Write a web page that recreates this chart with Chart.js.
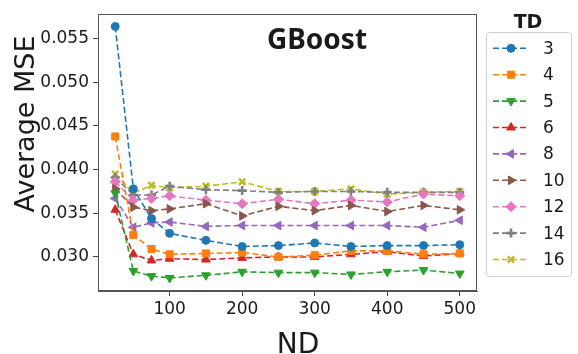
<!DOCTYPE html>
<html>
<head>
<meta charset="utf-8">
<script src="https://cdn.jsdelivr.net/npm/chart.js"></script>
<style>
  html, body { margin: 0; padding: 0; background: #fff; }
  #wrap { width: 578px; height: 354px; }
</style>
</head>
<body>
<div id="wrap"><canvas id="myChart" width="578" height="354"></canvas></div>
<script>
// ND values on the x axis
var nd = [25, 50, 75, 100, 150, 200, 250, 300, 350, 400, 450, 500];

// average MSE per tree depth (TD)
var td3  = [0.0564, 0.0378, 0.0344, 0.0327, 0.0319, 0.0312, 0.0313, 0.0316, 0.0312, 0.0313, 0.0313, 0.0314];
var td4  = [0.0438, 0.0325, 0.0309, 0.0303, 0.0304, 0.0305, 0.0300, 0.0302, 0.0307, 0.0307, 0.0303, 0.0304];
var td5  = [0.0373, 0.0284, 0.0278, 0.0276, 0.0279, 0.0283, 0.0282, 0.0282, 0.0280, 0.0283, 0.0285, 0.0281];
var td6  = [0.0354, 0.0303, 0.0296, 0.0298, 0.0297, 0.0299, 0.0300, 0.0300, 0.0303, 0.0306, 0.0301, 0.0304];
var td8  = [0.0367, 0.0334, 0.0339, 0.0340, 0.0335, 0.0336, 0.0336, 0.0336, 0.0336, 0.0336, 0.0334, 0.0342];
var td10 = [0.0378, 0.0357, 0.0353, 0.0355, 0.0361, 0.0347, 0.0358, 0.0353, 0.0359, 0.0352, 0.0359, 0.0354];
var td12 = [0.0386, 0.0365, 0.0367, 0.0370, 0.0365, 0.0361, 0.0366, 0.0361, 0.0365, 0.0363, 0.0372, 0.0370];
var td14 = [0.0391, 0.0371, 0.0371, 0.0381, 0.0377, 0.0376, 0.0374, 0.0375, 0.0375, 0.0374, 0.0374, 0.0374];
var td16 = [0.0395, 0.0373, 0.0382, 0.0379, 0.0381, 0.0386, 0.0375, 0.0375, 0.0378, 0.0372, 0.0374, 0.0375];

var tdLabels = ['3', '4', '5', '6', '8', '10', '12', '14', '16'];
var allSeries = [td3, td4, td5, td6, td8, td10, td12, td14, td16];

var xTicks = [100, 200, 300, 400, 500];
var yTicks = [0.030, 0.035, 0.040, 0.045, 0.050, 0.055];

var colors = ['#1f77b4', '#ff7f0e', '#2ca02c', '#d62728', '#9467bd', '#8c564b', '#e377c2', '#7f7f7f', '#bcbd22'];
// marker: style, rotation, radius, border width
var markers = [
  ['circle', 0, 4, 1],
  ['rect', 0, 5, 1],
  ['triangle', 180, 5, 1],
  ['triangle', 0, 5, 1],
  ['triangle', -90, 5, 1],
  ['triangle', 90, 5, 1],
  ['rectRot', 0, 5, 1],
  ['cross', 0, 4.5, 2.6],
  ['crossRot', 0, 4.5, 2.6]
];

var datasets = allSeries.map(function(s, i) {
  return {
    label: tdLabels[i],
    data: s.map(function(v, j) { return {x: nd[j], y: v}; }),
    borderColor: colors[i],
    backgroundColor: colors[i],
    borderWidth: 1.6,
    borderDash: [6, 3],
    pointStyle: markers[i][0],
    pointRotation: markers[i][1],
    pointRadius: markers[i][2],
    pointBorderWidth: markers[i][3],
    pointBackgroundColor: colors[i],
    pointBorderColor: colors[i],
    tension: 0,
    fill: false
  };
});

var extras = {
  id: 'extras',
  afterDraw: function(chart) {
    var ctx = chart.ctx, a = chart.chartArea;
    ctx.save();
    // frame
    ctx.strokeStyle = '#555';
    ctx.lineWidth = 1;
    ctx.strokeRect(Math.round(a.left) + 0.5, Math.round(a.top) + 0.5, Math.round(a.width) - 1, Math.round(a.height) - 1);

    ctx.fillStyle = '#1a1a1a';
    // in-plot title
    ctx.font = 'bold 28px "Noto Sans"';
    ctx.textAlign = 'center';
    ctx.textBaseline = 'middle';
    ctx.fillText('GBoost', 317, 41);

    // axis titles
    ctx.font = '28px "DejaVu Sans"';
    ctx.textBaseline = 'alphabetic';
    ctx.fillText('ND', 298, 353);
    ctx.save();
    ctx.translate(34, 124);
    ctx.rotate(-Math.PI / 2);
    ctx.font = '27px "DejaVu Sans"';
    ctx.fillText('Average MSE', 0, 0);
    ctx.restore();

    // legend
    ctx.font = 'bold 19px "DejaVu Sans"';
    ctx.textBaseline = 'middle';
    ctx.fillText('TD', 528, 23);

    ctx.fillStyle = '#fff';
    ctx.strokeStyle = '#d0d0d0';
    ctx.beginPath();
    ctx.roundRect(486.5, 32.5, 85, 244, 3);
    ctx.fill();
    ctx.stroke();

    chart.data.datasets.forEach(function(ds, i) {
      var y = 48.3 + i * 26.4;
      ctx.strokeStyle = ds.borderColor;
      ctx.lineWidth = 1.6;
      ctx.setLineDash([6, 3]);
      ctx.beginPath();
      ctx.moveTo(493, y);
      ctx.lineTo(528, y);
      ctx.stroke();
      ctx.setLineDash([]);
      ctx.fillStyle = ds.backgroundColor;
      ctx.lineWidth = ds.pointBorderWidth;
      Chart.helpers.drawPoint(ctx, {
        pointStyle: ds.pointStyle,
        rotation: ds.pointRotation,
        radius: ds.pointRadius,
        borderWidth: ds.pointBorderWidth
      }, 511, y);
      ctx.fillStyle = '#1a1a1a';
      ctx.font = '17px "DejaVu Sans"';
      ctx.textAlign = 'left';
      ctx.fillText(ds.label, 543, y + 1);
    });
    ctx.restore();
  }
};

var tickFont = { family: 'DejaVu Sans', size: 17 };

var myChart = new Chart(document.getElementById('myChart'), {
  type: 'line',
  data: { datasets: datasets },
  options: {
    responsive: false,
    animation: false,
    devicePixelRatio: 1,
    layout: { padding: { left: 0, top: 9, right: 101, bottom: 0 } },
    plugins: { legend: { display: false }, tooltip: { enabled: false } },
    scales: {
      x: {
        type: 'linear',
        min: 1.25,
        max: 523.75,
        afterBuildTicks: function(scale) {
          scale.ticks = xTicks.map(function(v) { return {value: v}; });
        },
        afterFit: function(scale) { scale.height = 63; },
        ticks: { font: tickFont, color: '#1a1a1a', padding: 3, autoSkip: false, maxRotation: 0 },
        grid: { drawOnChartArea: false, drawTicks: true, tickLength: 5, color: '#444' },
        border: { display: true, color: '#555' }
      },
      y: {
        type: 'linear',
        min: 0.0261,
        max: 0.0578,
        afterBuildTicks: function(scale) {
          scale.ticks = yTicks.map(function(v) { return {value: v}; });
        },
        afterFit: function(scale) { scale.width = 98; },
        ticks: {
          font: tickFont, color: '#1a1a1a', padding: 4, autoSkip: false,
          callback: function(v) { return v.toFixed(3); }
        },
        grid: { drawOnChartArea: false, drawTicks: true, tickLength: 5, color: '#444' },
        border: { display: true, color: '#555' }
      }
    }
  },
  plugins: [extras]
});
</script>
</body>
</html>
